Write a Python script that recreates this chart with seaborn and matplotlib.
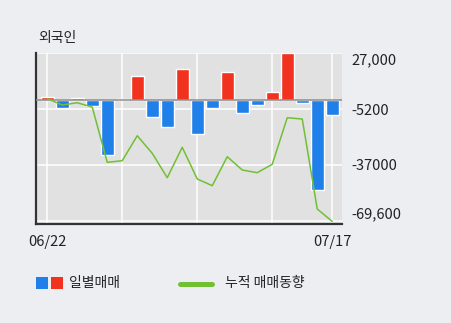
import matplotlib
matplotlib.use("Agg")
import matplotlib.pyplot as plt
from matplotlib.patches import Rectangle
from matplotlib.lines import Line2D
import seaborn as sns
import pandas as pd

# ---- data ----
dates = ["06/22", "06/23", "06/24", "06/25", "06/26",
         "06/29", "06/30", "07/01", "07/02", "07/03",
         "07/06", "07/07", "07/08", "07/09", "07/10",
         "07/13", "07/14", "07/15", "07/16", "07/17"]
daily = [1700, -4250, 1600, -3300, -31250,
         900, 14000, -9770, -15160, 18000,
         -19360, -4250, 16260, -7470, -2700,
         4770, 27000, -1380, -51530, -8450]
cumulative = [1000, -2700, -1380, -3900, -35620,
              -34700, -20340, -30450, -44470, -27000,
              -45200, -49060, -32400, -40040, -41590,
              -36770, -10000, -10740, -62450, -69600]
ytick_vals = [27000, -5200, -37000, -69600]
ytick_labels = ["27,000", "-5200", "-37000", "-69,600"]
xtick_idx = [0, 5, 10, 15, 19]
title = "외국인"
legend_bar = "일별매매"
legend_line = "누적 매매동향"

RED = "#f0321e"
BLUE = "#2080ea"
GREEN = "#71c033"

sns.set_theme(style="white")
plt.rcParams["font.family"] = ["Noto Sans CJK KR", "DejaVu Sans"]

df = pd.DataFrame({"date": dates, "daily": daily,
                   "sign": ["up" if v >= 0 else "down" for v in daily]})

fig = plt.figure(figsize=(4.51, 3.23), dpi=100)
fig.patch.set_facecolor("#edeef2")
ax = fig.add_axes([36 / 451, 1 - 223.7 / 323, (342 - 36) / 451, (223.7 - 53) / 323])
ax.set_facecolor("#e1e1e1")

sns.barplot(data=df, x="date", y="daily", hue="sign",
            palette={"up": RED, "down": BLUE}, dodge=False, legend=False,
            width=0.87, saturation=1, ax=ax, zorder=2)
ax.plot(range(len(cumulative)), cumulative, color=GREEN, lw=1.1, zorder=4)
ax.axhline(0, color="#8c8c8c", lw=1.1, zorder=3)

ax.set_xlim(-0.75, len(dates) - 1 + 0.65)
ax.set_ylim(-70900, 27200)

ax.set_xticks(xtick_idx)
ax.set_xticklabels([dates[i] if i in (0, len(dates) - 1) else "" for i in xtick_idx],
                   fontsize=10.5, color="#222222")
ax.yaxis.tick_right()
ax.set_yticks(ytick_vals)
ax.set_yticklabels(ytick_labels, fontsize=10.5, color="#222222")
labs = ax.get_yticklabels()
labs[0].set_va("top")
labs[-1].set_va("bottom")
ax.tick_params(axis="both", length=0)
ax.tick_params(axis="y", pad=7)
ax.tick_params(axis="x", pad=8)
ax.grid(True, color="white", lw=1.1, zorder=0)
ax.set_axisbelow(True)
ax.set_xlabel("")
ax.set_ylabel("")
for s in ("top", "right"):
    ax.spines[s].set_visible(False)
for s in ("left", "bottom"):
    ax.spines[s].set_color("#333333")
    ax.spines[s].set_linewidth(1.6)

fig.text(38 / 451, 1 - 37.7 / 323, title, fontsize=10, va="center", ha="left", color="#222222")

# legend drawn in figure pixel space
def px(x, y):
    return x / 451, 1 - y / 323

fig.add_artist(Rectangle(px(36, 289), 12 / 451, 12 / 323, transform=fig.transFigure,
                         facecolor=BLUE, edgecolor="none"))
fig.add_artist(Rectangle(px(51, 289), 12 / 451, 12 / 323, transform=fig.transFigure,
                         facecolor=RED, edgecolor="none"))
fig.text(*px(69, 283.5), legend_bar, fontsize=10, va="center", ha="left", color="#222222")
x0, y0 = px(180, 283.5)
x1, _ = px(212, 283.5)
fig.add_artist(Line2D([x0, x1], [y0, y0], transform=fig.transFigure, color=GREEN, lw=3.6))
fig.text(*px(225, 283.5), legend_line, fontsize=10, va="center", ha="left", color="#222222")

fig.savefig("out.png", dpi=100, facecolor=fig.get_facecolor())
